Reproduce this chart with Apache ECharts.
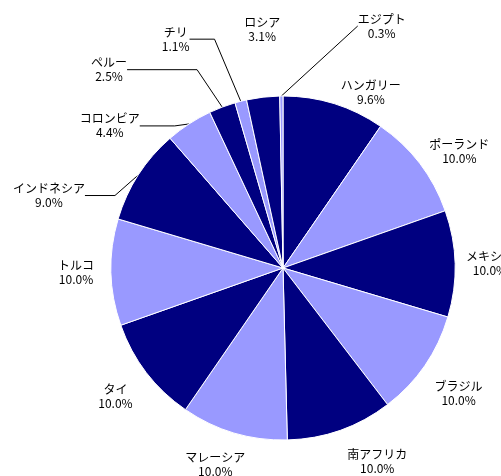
<!DOCTYPE html>
<html>
<head>
<meta charset="utf-8">
<script src="https://cdn.jsdelivr.net/npm/echarts@6/dist/echarts.min.js"></script>
<style>
html, body { margin: 0; padding: 0; background: #fff; }
#pie_show { width: 501px; height: 476px; }
</style>
</head>
<body>
<div id="pie_show"></div>
<script>
// 国別構成比 (%)
var countries = ['ハンガリー', 'ポーランド', 'メキシコ', 'ブラジル', '南アフリカ', 'マレーシア', 'タイ',
    'トルコ', 'インドネシア', 'コロンビア', 'ペルー', 'チリ', 'ロシア', 'エジプト'];
var shares = [9.6, 10.0, 10.0, 10.0, 10.0, 10.0, 10.0, 10.0, 9.0, 4.4, 2.5, 1.1, 3.1, 0.3];

var colorList = ['#000080', '#9999ff'];

// 引き出し線 [表示, length, length2]
var leader = {
    'インドネシア': [true, 10, 30],
    'コロンビア': [true, 6, 35],
    'ペルー': [true, 40, 70],
    'チリ': [true, 62, 25],
    'ロシア': [false, 68, 0],
    'エジプト': [true, 70, 0]
};
// ラベル位置の微調整 [dx, dy]
var nudge = {
    'ハンガリー': [0, -6],
    'ポーランド': [0, -8],
    'ブラジル': [0, 24],
    '南アフリカ': [0, 26],
    'マレーシア': [18, 26],
    'タイ': [-4, 20],
    'トルコ': [-6, 0],
    'インドネシア': [-10, 26],
    'コロンビア': [-6, 7],
    'ペルー': [-6, 0],
    'チリ': [-6, -2],
    'ロシア': [30, 0],
    'エジプト': [130, 0]
};

var pieData = [];
for (var i = 0; i < countries.length; i++) {
    var ln = leader[countries[i]] || [false, 6, 0];
    pieData.push({
        name: countries[i],
        value: shares[i],
        itemStyle: { color: colorList[i % 2] },
        labelLine: { show: ln[0], length: ln[1], length2: ln[2] }
    });
}

var oPie = echarts.init(document.getElementById('pie_show'));
var oPieopt = {
    animation: false,
    series: [{
        type: 'pie',
        center: [283, 268],
        radius: 172,
        startAngle: 90,
        clockwise: true,
        avoidLabelOverlap: false,
        minShowLabelAngle: 0,
        itemStyle: { borderColor: '#fff', borderWidth: 1 },
        label: {
            position: 'outside',
            color: '#000',
            fontFamily: 'Noto Sans CJK JP',
            fontSize: 12,
            lineHeight: 14,
            distanceToLabelLine: 5,
            formatter: function (p) {
                return p.name + '\n' + p.value.toFixed(1) + '%';
            }
        },
        labelLine: {
            lineStyle: { color: '#000', width: 1 },
            smooth: false
        },
        labelLayout: function (p) {
            var d = nudge[countries[p.dataIndex]] || [0, 0];
            return {
                x: p.labelRect.x + p.labelRect.width / 2 + d[0],
                y: p.labelRect.y + p.labelRect.height / 2 + d[1],
                align: 'center',
                verticalAlign: 'middle'
            };
        },
        data: pieData
    }]
};
oPie.setOption(oPieopt);
</script>
</body>
</html>
